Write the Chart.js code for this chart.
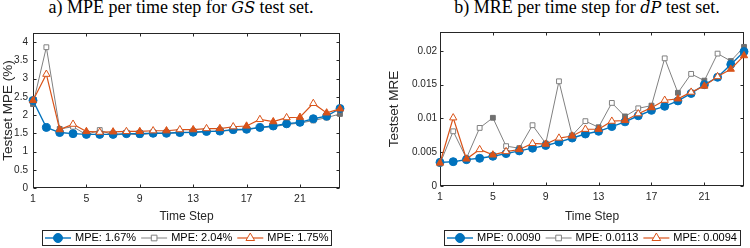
<!DOCTYPE html>
<html>
<head>
<meta charset="utf-8">
<script src="https://cdn.jsdelivr.net/npm/chart.js@4.4.0/dist/chart.umd.min.js"></script>
<style>
  html, body { margin: 0; padding: 0; background: #fff; }
  #wrap { position: relative; width: 750px; height: 248px; overflow: hidden; }
  #wrap canvas { position: absolute; top: 0; }
  .ttl {
    position: absolute; top: -2px; transform: translateX(-50%);
    font-family: "Liberation Serif", "Times New Roman", serif;
    font-size: 18px; line-height: 18px; white-space: nowrap; color: #000;
  }
  .ttl i { font-family: "DejaVu Serif", "Liberation Serif", serif; font-size: 16px; }
</style>
</head>
<body>
<div id="wrap">
  <div class="ttl" style="left:181px">a) MPE per time step for <i>GS</i> test set.</div>
  <div class="ttl" style="left:587px">b) MRE per time step for <i>dP</i> test set.</div>
  <canvas id="chart-gs" width="375" height="248" style="left:0"></canvas>
  <canvas id="chart-dp" width="375" height="248" style="left:375px"></canvas>
</div>
<script>
// ---------------- data ----------------
const steps = [1, 2, 3, 4, 5, 6, 7, 8, 9, 10, 11, 12, 13, 14, 15, 16, 17, 18, 19, 20, 21, 22, 23, 24];
const xTicks = [1, 5, 9, 13, 17, 21];

// a) MPE (%) for GS
const mpeTicks = [0, 0.5, 1, 1.5, 2, 2.5, 3, 3.5, 4];
const gsBlue   = [2.40, 1.66, 1.52, 1.49, 1.47, 1.47, 1.47, 1.49, 1.49, 1.50, 1.50, 1.52, 1.53, 1.55, 1.56, 1.60, 1.61, 1.66, 1.70, 1.76, 1.80, 1.90, 1.97, 2.18];
const gsGray   = [2.30, 3.86, 1.62, 1.68, 1.46, 1.59, 1.45, 1.48, 1.46, 1.50, 1.50, 1.52, 1.52, 1.55, 1.56, 1.58, 1.60, 1.66, 1.68, 1.74, 1.78, 1.85, 1.93, 2.03];
const gsOrange = [2.40, 3.12, 1.60, 1.75, 1.55, 1.53, 1.54, 1.55, 1.55, 1.57, 1.57, 1.60, 1.60, 1.63, 1.63, 1.68, 1.70, 1.88, 1.82, 1.93, 1.94, 2.32, 2.06, 2.17];
const gsLabels = ['MPE: 1.67%', 'MPE: 2.04%', 'MPE: 1.75%'];

// b) MRE for dP
const mreTicks = [0, 0.005, 0.01, 0.015, 0.02];
const dpBlue   = [0.0035, 0.0036, 0.0039, 0.0041, 0.0044, 0.0048, 0.0052, 0.0056, 0.0060, 0.0065, 0.0071, 0.0077, 0.0081, 0.0088, 0.0095, 0.0104, 0.0112, 0.0118, 0.0126, 0.0137, 0.0150, 0.0161, 0.0180, 0.0199];
const dpGray   = [0.0033, 0.0081, 0.0041, 0.0086, 0.0101, 0.0059, 0.0056, 0.0090, 0.0063, 0.0155, 0.0075, 0.0096, 0.0087, 0.0123, 0.0103, 0.0115, 0.0119, 0.0189, 0.0138, 0.0166, 0.0156, 0.0196, 0.0185, 0.0206];
const dpOrange = [0.0034, 0.0101, 0.0040, 0.0054, 0.0046, 0.0051, 0.0054, 0.0063, 0.0062, 0.0071, 0.0074, 0.0084, 0.0084, 0.0096, 0.0097, 0.0107, 0.0116, 0.0127, 0.0129, 0.0139, 0.0148, 0.0162, 0.0173, 0.0193];
const dpLabels = ['MPE: 0.0090', 'MPE: 0.0113', 'MPE: 0.0094'];

// ---------------- style ----------------
const BLUE = '#0072BD', GRAY = '#808080', GRAY_DARK = '#707070', ORANGE = '#D95319';
const AXIS = '#262626';
const SANS = '"Liberation Sans", Arial, sans-serif';
Chart.defaults.font.family = SANS;

// filled marker on odd steps (and the last one), hollow otherwise
const filled = steps.map(s => s % 2 === 1 || s === 24);

function pts(vals) {
    return steps.map((s, i) => ({ x: s, y: vals[i] }));
}

function makeSets(b, g, o) {
    return [{
        data: pts(b), borderColor: BLUE, backgroundColor: BLUE, borderWidth: 1.4,
        pointStyle: 'circle', pointRadius: 4, pointBorderWidth: 1,
        pointBackgroundColor: BLUE, pointBorderColor: BLUE, order: 1,
        legendStyle: 'circle', legendFill: BLUE
    }, {
        data: pts(g), borderColor: GRAY, backgroundColor: GRAY, borderWidth: 1,
        pointStyle: 'rect', pointRadius: 3.4, pointBorderWidth: 1,
        pointBackgroundColor: filled.map(f => f ? GRAY_DARK : '#fff'),
        pointBorderColor: filled.map(f => f ? GRAY_DARK : GRAY), order: 2,
        legendStyle: 'rect', legendFill: '#fff'
    }, {
        data: pts(o), borderColor: ORANGE, backgroundColor: ORANGE, borderWidth: 1.2,
        pointStyle: 'triangle', pointRadius: 4.2, pointBorderWidth: 1,
        pointBackgroundColor: filled.map(f => f ? ORANGE : '#fff'),
        pointBorderColor: ORANGE, order: 0,
        legendStyle: 'triangle', legendFill: '#fff'
    }].map(d => Object.assign(d, { tension: 0, clip: false, fill: false }));
}

function marker(ctx, style, x, y, r, fill, stroke) {
    ctx.beginPath();
    if (style === 'circle') {
        ctx.arc(x, y, r, 0, Math.PI * 2);
    } else if (style === 'rect') {
        const s = r * Math.SQRT1_2;
        ctx.rect(x - s, y - s, 2 * s, 2 * s);
    } else {
        ctx.moveTo(x, y - r);
        ctx.lineTo(x + r * 0.866, y + r * 0.5);
        ctx.lineTo(x - r * 0.866, y + r * 0.5);
        ctx.closePath();
    }
    ctx.fillStyle = fill;
    ctx.fill();
    ctx.lineWidth = 1;
    ctx.strokeStyle = stroke;
    ctx.stroke();
}

// matlab style box with inward ticks + boxed legend under the axis
const matlabPlugin = {
    id: 'matlabBox',
    beforeDatasetsDraw(chart) {
        const { ctx, chartArea: a, scales } = chart;
        const L = a.left + 0.5, R = a.right - 0.5, T = a.top + 0.5, B = a.bottom - 0.5;
        ctx.save();
        ctx.strokeStyle = AXIS;
        ctx.lineWidth = 1;
        ctx.strokeRect(L, T, R - L, B - T);
        ctx.beginPath();
        scales.x.ticks.forEach(t => {
            const px = Math.round(scales.x.getPixelForValue(t.value)) + 0.5;
            ctx.moveTo(px, B); ctx.lineTo(px, B - 3);
            ctx.moveTo(px, T); ctx.lineTo(px, T + 3);
        });
        scales.y.ticks.forEach(t => {
            const py = Math.round(scales.y.getPixelForValue(t.value)) + 0.5;
            ctx.moveTo(L, py); ctx.lineTo(L + 3, py);
            ctx.moveTo(R, py); ctx.lineTo(R - 3, py);
        });
        ctx.stroke();
        ctx.restore();
    },
    afterDraw(chart) {
        const labels = chart.options.plugins.matlabBox.labels;
        const ctx = chart.ctx, a = chart.chartArea;
        ctx.save();
        ctx.font = '11px ' + SANS;
        const lineLen = 26, gap = 4, itemGap = 5, pad = 3;
        const widths = labels.map(t => ctx.measureText(t).width);
        const total = 2 * pad + widths.reduce((s, w) => s + lineLen + gap + w, 0) + itemGap * (labels.length - 1);
        const x0 = Math.round((a.left + a.right) / 2 - total / 2);
        const top = 230, h = 15;
        ctx.fillStyle = '#fff';
        ctx.fillRect(x0, top, total, h);
        ctx.strokeStyle = AXIS;
        ctx.lineWidth = 1;
        ctx.strokeRect(x0 + 0.5, top + 0.5, Math.round(total), h);
        let x = x0 + pad;
        const cy = top + h / 2 + 0.5;
        chart.data.datasets.forEach((ds, i) => {
            ctx.beginPath();
            ctx.strokeStyle = ds.borderColor;
            ctx.lineWidth = ds.borderWidth;
            ctx.moveTo(x, cy); ctx.lineTo(x + lineLen, cy);
            ctx.stroke();
            const r = ds.legendStyle === 'circle' ? 4.5 : ds.legendStyle === 'rect' ? 4 : 5;
            marker(ctx, ds.legendStyle, x + lineLen / 2, cy, r, ds.legendFill, ds.borderColor);
            ctx.fillStyle = '#000';
            ctx.textBaseline = 'middle';
            ctx.textAlign = 'left';
            ctx.fillText(labels[i], x + lineLen + gap, cy);
            x += lineLen + gap + widths[i] + itemGap;
        });
        ctx.restore();
    }
};

function makeChart(id, sets, yTicks, yMax, yTitle, labels, g) {
    return new Chart(document.getElementById(id).getContext('2d'), {
        type: 'line',
        data: { datasets: sets },
        options: {
            responsive: false,
            animation: false,
            devicePixelRatio: 1,
            layout: { padding: { left: 0, top: g.top, right: g.right, bottom: 24 } },
            plugins: {
                legend: { display: false },
                tooltip: { enabled: false },
                matlabBox: { labels: labels }
            },
            scales: {
                x: {
                    type: 'linear', min: 1, max: 24,
                    afterBuildTicks: s => { s.ticks = xTicks.map(v => ({ value: v })); },
                    afterFit: s => { s.height = g.xh; },
                    grid: { display: false, drawTicks: false },
                    border: { display: false },
                    ticks: { color: AXIS, font: { size: 10.5 }, padding: 5, maxRotation: 0 },
                    title: { display: true, text: 'Time Step', color: AXIS, font: { size: 12 }, padding: { top: g.xtp, bottom: 0 } }
                },
                y: {
                    type: 'linear', min: 0, max: yMax,
                    afterBuildTicks: s => { s.ticks = yTicks.map(v => ({ value: v })); },
                    afterFit: s => { s.width = g.yw; },
                    grid: { display: false, drawTicks: false },
                    border: { display: false },
                    ticks: { color: AXIS, font: { size: 10 }, padding: g.ytp, callback: v => String(v) },
                    title: { display: true, text: yTitle, color: AXIS, font: { size: 13.5 }, padding: { top: g.ttp, bottom: 0 } }
                }
            }
        },
        plugins: [matlabPlugin]
    });
}

makeChart('chart-gs', makeSets(gsBlue, gsGray, gsOrange), mpeTicks, 4.25, 'Testset MPE (%)', gsLabels,
    { top: 33, right: 35, xh: 36, yw: 33, xtp: 2, ytp: 5, ttp: 0 });
makeChart('chart-dp', makeSets(dpBlue, dpGray, dpOrange), mreTicks, 0.0228, 'Testset MRE', dpLabels,
    { top: 32, right: 6, xh: 38, yw: 65, xtp: 3, ytp: 3, ttp: 11 });
</script>
</body>
</html>
